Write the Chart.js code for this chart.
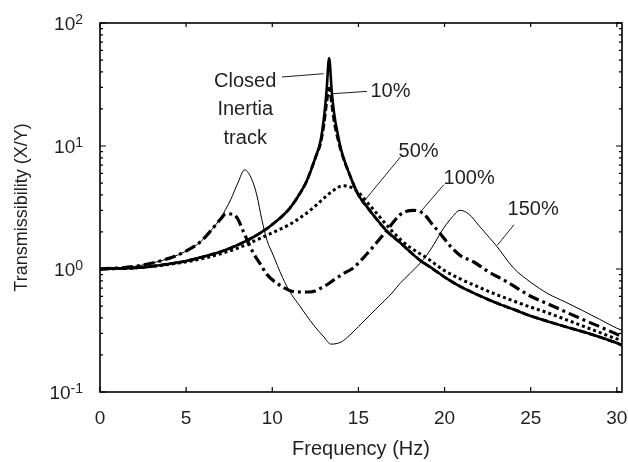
<!DOCTYPE html>
<html>
<head>
<meta charset="utf-8">
<script src="https://cdn.jsdelivr.net/npm/chart.js@4.4.0/dist/chart.umd.min.js"></script>
<style>
  html, body { margin: 0; padding: 0; background: #fff; }
</style>
</head>
<body>
<canvas id="chart" width="628" height="462"></canvas>
<script>
// values: frequency (Hz) -> transmissibility X/Y
var closedFreq = [0, 1, 2, 3, 4, 5, 6, 7, 8, 9, 10, 11, 11.5, 12, 12.5, 12.8, 13, 13.15, 13.3, 13.45, 13.6, 13.8, 14, 14.5, 15, 15.5, 16, 16.7, 17.4, 18, 18.6, 19.2, 20, 21, 22, 23, 24, 25, 26, 27, 28, 29, 30, 30.3]
var closedVal = [1.0, 1.01, 1.02, 1.05, 1.1, 1.16, 1.26, 1.38, 1.57, 1.85, 2.3, 3.1, 3.9, 5.2, 8.0, 11, 17, 28, 52, 28, 18, 12.5, 9.3, 5.8, 4.0, 3.2, 2.6, 2.0, 1.65, 1.38, 1.17, 1.03, 0.86, 0.71, 0.61, 0.53, 0.47, 0.415, 0.375, 0.34, 0.31, 0.28, 0.25, 0.24]

var tenFreq = closedFreq
var tenVal = [1.0, 1.01, 1.02, 1.05, 1.1, 1.16, 1.26, 1.38, 1.57, 1.85, 2.3, 3.1, 3.9, 5.2, 8.0, 10.5, 15, 22, 29.5, 22, 15.5, 11.5, 9.0, 5.8, 4.0, 3.2, 2.6, 2.0, 1.65, 1.38, 1.17, 1.03, 0.86, 0.71, 0.61, 0.53, 0.47, 0.415, 0.375, 0.34, 0.31, 0.28, 0.25, 0.24]

var fiftyFreq = [0, 2, 4, 6, 8, 9, 10, 11, 11.6, 12.2, 12.8, 13.5, 14.1, 14.6, 15, 15.5, 16, 16.5, 17, 17.4, 18, 19, 20, 21, 22, 23, 24, 25, 26, 27, 28, 29, 30, 30.3]
var fiftyVal = [1.0, 1.02, 1.09, 1.22, 1.48, 1.7, 1.97, 2.3, 2.6, 3.0, 3.55, 4.3, 4.75, 4.6, 4.2, 3.5, 2.9, 2.4, 2.0, 1.76, 1.5, 1.22, 0.97, 0.82, 0.71, 0.62, 0.55, 0.49, 0.44, 0.39, 0.345, 0.305, 0.27, 0.263]

var hundredFreq = [0, 2, 4, 5, 5.8, 6.5, 7, 7.3, 7.7, 8, 8.3, 8.6, 8.9, 9.3, 9.7, 10.3, 11, 11.6, 12.2, 13, 13.6, 14.2, 14.7, 15.5, 16, 16.7, 17.4, 17.8, 18.2, 18.8, 19.3, 19.8, 20.4, 20.9, 21.7, 22.5, 23.6, 25, 26, 27, 28, 29, 30, 30.3]
var hundredVal = [1.0, 1.05, 1.22, 1.4, 1.65, 2.1, 2.55, 2.8, 2.8, 2.55, 2.05, 1.65, 1.35, 1.1, 0.9, 0.76, 0.67, 0.65, 0.65, 0.72, 0.82, 0.93, 1.02, 1.33, 1.6, 2.1, 2.75, 2.95, 3.0, 2.8, 2.3, 1.9, 1.5, 1.29, 1.14, 0.96, 0.79, 0.6, 0.52, 0.45, 0.39, 0.34, 0.295, 0.285]

var oneFiftyFreq = [0, 2, 4, 5, 5.8, 6.5, 7, 7.6, 8, 8.4, 8.8, 9.1, 9.4, 9.7, 10, 10.6, 11, 11.6, 12.4, 13, 13.4, 14, 14.5, 15, 16, 17, 17.4, 18, 18.8, 19.4, 19.8, 20.4, 20.9, 21.4, 22, 22.6, 23, 24, 25, 26, 27, 28, 29, 30, 30.3]
var oneFiftyVal = [1.0, 1.05, 1.22, 1.4, 1.65, 2.1, 2.6, 3.7, 5.0, 6.4, 5.4, 4.0, 2.5, 1.7, 1.35, 0.85, 0.66, 0.5, 0.35, 0.28, 0.245, 0.255, 0.29, 0.34, 0.47, 0.65, 0.76, 0.92, 1.21, 1.6, 2.0, 2.6, 3.0, 2.8, 2.25, 1.8, 1.55, 1.02, 0.78, 0.63, 0.54, 0.46, 0.39, 0.33, 0.317]

var xTicks = [0, 5, 10, 15, 20, 25, 30]
var yTicks = [0.1, 1, 10, 100]
var yTickExp = ["-1", "0", "1", "2"]

// annotation text (anchored in data units)
var notes = [
    { text: "Closed", x: 8.43, y: 30.2, align: "center" },
    { text: "Inertia", x: 8.43, y: 17.8, align: "center" },
    { text: "track", x: 8.43, y: 10.44, align: "center" },
    { text: "10%", x: 15.7, y: 25.0, align: "left" },
    { text: "50%", x: 17.33, y: 8.14, align: "left" },
    { text: "100%", x: 19.94, y: 4.91, align: "left" },
    { text: "150%", x: 23.66, y: 2.75, align: "left" }
]
var leaders = [
    [10.56, 36.4, 12.98, 38.7],
    [13.47, 26.6, 15.5, 27.8],
    [17.44, 8.14, 15.21, 3.40],
    [19.96, 4.85, 18.6, 2.91],
    [24.03, 2.29, 23.06, 1.56]
]

var FONT = '"Liberation Sans", Arial, sans-serif'
var INK = '#231f20'

const pts = (xs, ys) => xs.map((x, i) => ({ x: x, y: ys[i] }))

const line = (label, xs, ys, width, dash) => ({
    label: label,
    data: pts(xs, ys),
    borderColor: '#000',
    borderWidth: width,
    borderDash: dash,
    borderJoinStyle: 'round',
    pointRadius: 0,
    fill: false,
    cubicInterpolationMode: 'monotone'
})

var frame = {
    id: 'frame',
    afterDraw(chart) {
        var ctx = chart.ctx, a = chart.chartArea
        var xs = chart.scales.x, ys = chart.scales.y
        ctx.save()
        ctx.strokeStyle = '#000'
        ctx.lineWidth = 1.6
        ctx.strokeRect(a.left, a.top, a.right - a.left, a.bottom - a.top)

        // inward ticks
        ctx.lineWidth = 1.2
        ctx.beginPath()
        xTicks.forEach(v => {
            var px = xs.getPixelForValue(v)
            ctx.moveTo(px, a.bottom); ctx.lineTo(px, a.bottom - 5)
            ctx.moveTo(px, a.top); ctx.lineTo(px, a.top + 4)
        })
        yTicks.forEach((d, i) => {
            for (var m = 1; m <= 9; m++) {
                if (i === yTicks.length - 1 && m > 1) break
                var py = ys.getPixelForValue(d * m)
                var len = m === 1 ? 6 : 3
                ctx.moveTo(a.left, py); ctx.lineTo(a.left + len, py)
                ctx.moveTo(a.right, py); ctx.lineTo(a.right - len, py)
            }
        })
        ctx.stroke()

        // tick labels
        ctx.fillStyle = INK
        ctx.textBaseline = 'alphabetic'
        ctx.textAlign = 'center'
        ctx.font = '19px ' + FONT
        xTicks.forEach(v => {
            ctx.fillText(String(v), xs.getPixelForValue(v), a.bottom + 31.5)
        })
        ctx.textAlign = 'left'
        yTicks.forEach((v, i) => {
            var py = ys.getPixelForValue(v)
            ctx.font = '14px ' + FONT
            var ws = ctx.measureText(yTickExp[i]).width
            ctx.font = '19px ' + FONT
            var wb = ctx.measureText('10').width
            var right = a.left - 17
            ctx.fillText('10', right - ws - wb, py + 6.5)
            ctx.font = '14px ' + FONT
            ctx.fillText(yTickExp[i], right - ws, py + 0.5)
        })

        // notes and leader lines
        ctx.font = '20px ' + FONT
        notes.forEach(n => {
            ctx.textAlign = n.align
            ctx.fillText(n.text, xs.getPixelForValue(n.x), ys.getPixelForValue(n.y))
        })
        ctx.strokeStyle = INK
        ctx.lineWidth = 1
        ctx.beginPath()
        leaders.forEach(l => {
            ctx.moveTo(xs.getPixelForValue(l[0]), ys.getPixelForValue(l[1]))
            ctx.lineTo(xs.getPixelForValue(l[2]), ys.getPixelForValue(l[3]))
        })
        ctx.stroke()
        ctx.restore()
    }
}

var chart = new Chart(document.getElementById('chart'), {
    type: 'line',
    data: {
        datasets: [
            line('10%', tenFreq, tenVal, 2.8, [7, 3]),
            line('Closed Inertia track', closedFreq, closedVal, 2.6, []),
            line('50%', fiftyFreq, fiftyVal, 3, [3, 3]),
            line('100%', hundredFreq, hundredVal, 3.2, [11, 4, 3, 4]),
            line('150%', oneFiftyFreq, oneFiftyVal, 1, [])
        ]
    },
    options: {
        responsive: false,
        animation: false,
        devicePixelRatio: 1,
        layout: { padding: { top: 23, right: 6, left: 0, bottom: 0 } },
        plugins: { legend: { display: false }, tooltip: { enabled: false } },
        scales: {
            x: {
                type: 'linear',
                min: 0,
                max: 30.3,
                grid: { display: false, drawTicks: false },
                border: { display: false },
                ticks: { display: false },
                title: {
                    display: true,
                    text: 'Frequency (Hz)',
                    color: INK,
                    font: { family: FONT, size: 20 },
                    padding: { top: 0, bottom: 1 }
                },
                afterFit: s => { s.height = 70 }
            },
            y: {
                type: 'logarithmic',
                min: 0.1,
                max: 100,
                grid: { display: false, drawTicks: false },
                border: { display: false },
                ticks: { display: false },
                title: {
                    display: true,
                    text: 'Transmissibility (X/Y)',
                    color: INK,
                    font: { family: FONT, size: 18 },
                    padding: { top: 11, bottom: 0 }
                },
                afterFit: s => { s.width = 100 }
            }
        }
    },
    plugins: [frame]
})
</script>
</body>
</html>
